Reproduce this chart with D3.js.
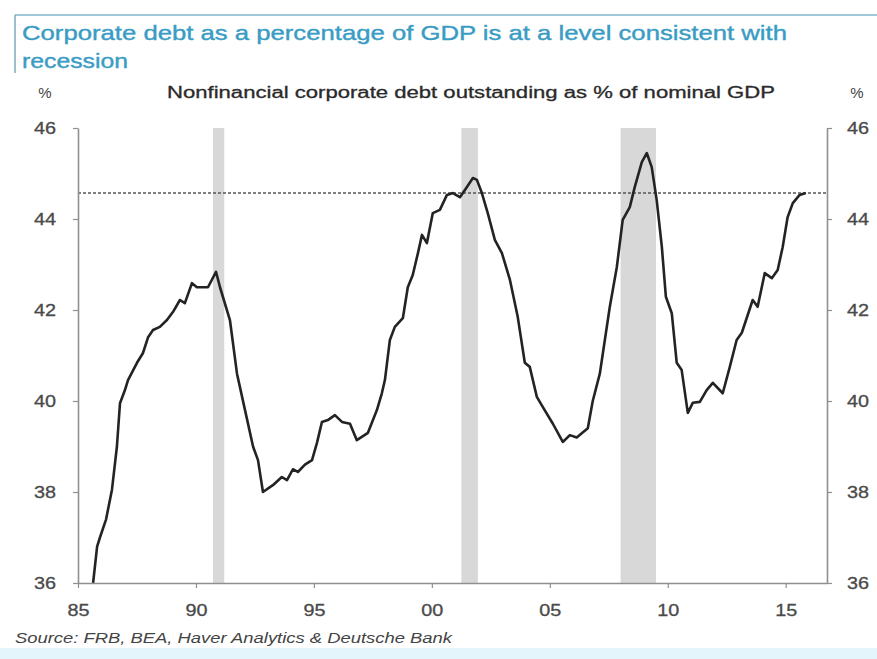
<!DOCTYPE html>
<html lang="en">
<head>
    <meta charset="UTF-8">
    <title>Corporate debt as % of GDP</title>
    <script src="https://d3js.org/d3.v7.min.js"></script>
    <style>
        body { margin: 0; background: #fff; }
        svg { display: block; font-family: "Liberation Sans", Arial, sans-serif; }
    </style>
</head>
<body>
<div id="chart"></div>
<script>
    // quarterly-ish readings (decimal year, % of GDP)
    const years = [
        1985.64, 1985.81, 1985.93, 1986.19, 1986.44, 1986.65, 1986.78, 1986.99, 1987.12, 1987.50,
        1987.75, 1987.97, 1988.18, 1988.47, 1988.77, 1989.03, 1989.32, 1989.53, 1989.83, 1990.04,
        1990.51, 1990.85, 1991.02, 1991.44, 1991.74, 1992.08, 1992.42, 1992.63, 1992.84, 1993.26,
        1993.64, 1993.86, 1994.11, 1994.32, 1994.62, 1994.92, 1995.13, 1995.34, 1995.59, 1995.89,
        1996.19, 1996.53, 1996.82, 1997.29, 1997.67, 1997.88, 1998.01, 1998.22, 1998.43, 1998.77,
        1998.98, 1999.19, 1999.41, 1999.58, 1999.79, 2000.04, 2000.34, 2000.64, 2000.89, 2001.19,
        2001.48, 2001.74, 2001.91, 2002.12, 2002.37, 2002.67, 2002.97, 2003.31, 2003.64, 2003.94,
        2004.15, 2004.45, 2004.70, 2005.13, 2005.55, 2005.85, 2006.14, 2006.61, 2006.82, 2007.12,
        2007.54, 2007.84, 2008.09, 2008.39, 2008.60, 2008.90, 2009.11, 2009.32, 2009.53, 2009.75,
        2009.92, 2010.17, 2010.38, 2010.59, 2010.85, 2011.06, 2011.36, 2011.65, 2011.91, 2012.33,
        2012.63, 2012.92, 2013.14, 2013.60, 2013.81, 2014.11, 2014.41, 2014.66, 2014.87, 2015.08,
        2015.30, 2015.59, 2015.85
    ];
    const debtPct = [
        36.00, 36.80, 37.00, 37.40, 38.05, 39.00, 39.95, 40.24, 40.46, 40.84,
        41.05, 41.40, 41.56, 41.63, 41.78, 41.96, 42.22, 42.15, 42.59, 42.50,
        42.50, 42.84, 42.50, 41.78, 40.60, 39.80, 39.00, 38.70, 38.00, 38.15,
        38.33, 38.26, 38.50, 38.44, 38.60, 38.70, 39.08, 39.54, 39.58, 39.69,
        39.54, 39.50, 39.14, 39.30, 39.80, 40.17, 40.46, 41.34, 41.63, 41.82,
        42.50, 42.77, 43.25, 43.65, 43.47, 44.13, 44.20, 44.53, 44.57, 44.48,
        44.70, 44.90, 44.86, 44.57, 44.13, 43.54, 43.25, 42.66, 41.85, 40.84,
        40.75, 40.09, 39.87, 39.50, 39.10, 39.25, 39.20, 39.40, 40.00, 40.60,
        42.06, 42.94, 43.98, 44.26, 44.70, 45.25, 45.45, 45.14, 44.42, 43.38,
        42.29, 41.93, 40.84, 40.68, 39.74, 39.96, 39.98, 40.24, 40.40, 40.17,
        40.75, 41.34, 41.50, 42.22, 42.07, 42.81, 42.70, 42.88, 43.38, 44.04,
        44.35, 44.53, 44.57
    ];

    // NBER recessions
    const recStart = [1990.72, 2001.25, 2008.0];
    const recEnd = [1991.2, 2001.95, 2009.5];

    const recessionLevel = 44.57;

    const xTicks = [1985, 1990, 1995, 2000, 2005, 2010, 2015];
    const xTickLabels = ["85", "90", "95", "00", "05", "10", "15"];
    const yTicks = [36, 38, 40, 42, 44, 46];

    const width = 877, height = 659;
    const plotLeft = 78, plotRight = 827, plotTop = 128, plotBottom = 583;

    const svg = d3.select("#chart")
        .append("svg")
        .attr("width", width)
        .attr("height", height);

    const x = d3.scaleLinear().domain([1985, 2016.75]).range([plotLeft, plotRight]);
    const y = d3.scaleLinear().domain([36, 46]).range([plotBottom, plotTop]);

    // frame bits round the title
    svg.append("line")
        .attr("x1", 15).attr("x2", width)
        .attr("y1", 15).attr("y2", 15)
        .attr("stroke", "#9fc7d6").attr("stroke-width", 2);
    svg.append("line")
        .attr("x1", 15).attr("x2", 15)
        .attr("y1", 15).attr("y2", 73)
        .attr("stroke", "#7fa9bb").attr("stroke-width", 1.5);
    svg.append("rect")
        .attr("x", 0).attr("y", 648)
        .attr("width", width).attr("height", 11)
        .attr("fill", "#e4f5fb");

    svg.append("text")
        .attr("x", 22).attr("y", 40)
        .attr("font-size", 21)
        .attr("fill", "#3a9cc4")
        .attr("stroke", "#3a9cc4").attr("stroke-width", 0.4)
        .attr("textLength", 765)
        .attr("lengthAdjust", "spacingAndGlyphs")
        .text("Corporate debt as a percentage of GDP is at a level consistent with");
    svg.append("text")
        .attr("x", 22).attr("y", 68)
        .attr("font-size", 21)
        .attr("fill", "#3a9cc4")
        .attr("stroke", "#3a9cc4").attr("stroke-width", 0.4)
        .attr("textLength", 106)
        .attr("lengthAdjust", "spacingAndGlyphs")
        .text("recession");

    svg.append("text")
        .attr("x", 167).attr("y", 98)
        .attr("font-size", 16)
        .attr("fill", "#2a2a2a")
        .attr("stroke", "#2a2a2a").attr("stroke-width", 0.3)
        .attr("textLength", 608)
        .attr("lengthAdjust", "spacingAndGlyphs")
        .text("Nonfinancial corporate debt outstanding as % of nominal GDP");
    svg.append("text")
        .attr("x", 45).attr("y", 98)
        .attr("text-anchor", "middle")
        .attr("font-size", 15)
        .attr("fill", "#444")
        .text("%");
    svg.append("text")
        .attr("x", 857).attr("y", 98)
        .attr("text-anchor", "middle")
        .attr("font-size", 15)
        .attr("fill", "#444")
        .text("%");

    // recession shading
    svg.selectAll(".rec")
        .data(recStart)
        .enter()
        .append("rect")
        .attr("class", "rec")
        .attr("x", d => x(d))
        .attr("width", (d, i) => x(recEnd[i]) - x(d))
        .attr("y", y(46))
        .attr("height", y(36) - y(46))
        .attr("fill", "#d8d8d8");

    // threshold line
    svg.append("line")
        .attr("x1", plotLeft).attr("x2", plotRight)
        .attr("y1", y(recessionLevel)).attr("y2", y(recessionLevel))
        .attr("stroke", "#555")
        .attr("stroke-width", 1.6)
        .attr("stroke-dasharray", "3,2");

    svg.append("clipPath").attr("id", "plot")
        .append("rect")
        .attr("x", plotLeft).attr("y", plotTop - 10)
        .attr("width", plotRight - plotLeft).attr("height", plotBottom - plotTop + 10);

    const line = d3.line()
        .x((d, i) => x(years[i]))
        .y(d => y(d));

    svg.append("path")
        .datum(debtPct)
        .attr("clip-path", "url(#plot)")
        .attr("fill", "none")
        .attr("stroke", "#232323")
        .attr("stroke-width", 2.6)
        .attr("stroke-linejoin", "round")
        .attr("d", line);

    function styleAxis(g) {
        g.select(".domain").attr("stroke", "#8f8f8f").attr("stroke-width", 1.6);
        g.selectAll(".tick line").attr("stroke", "#8f8f8f").attr("stroke-width", 1.2);
        g.selectAll(".tick text")
            .attr("fill", "#4a4a4a")
            .attr("stroke", "#4a4a4a").attr("stroke-width", 0.3)
            .attr("font-size", 16)
            .attr("font-family", "Liberation Sans, Arial, sans-serif")
            .attr("textLength", 22)
            .attr("lengthAdjust", "spacingAndGlyphs");
    }

    svg.append("g")
        .attr("transform", `translate(${plotLeft},0)`)
        .call(d3.axisLeft(y).tickValues(yTicks).tickSize(5).tickSizeOuter(0).tickPadding(17))
        .call(styleAxis);

    svg.append("g")
        .attr("transform", `translate(${plotRight},0)`)
        .call(d3.axisRight(y).tickValues(yTicks).tickSize(5).tickSizeOuter(0).tickPadding(15))
        .call(styleAxis);

    svg.append("g")
        .attr("transform", `translate(0,${plotBottom})`)
        .call(d3.axisBottom(x).tickValues(xTicks).tickFormat((d, i) => xTickLabels[i])
            .tickSize(5).tickSizeOuter(0).tickPadding(17))
        .call(styleAxis);

    svg.append("text")
        .attr("x", 15).attr("y", 643)
        .attr("font-size", 14)
        .attr("font-style", "italic")
        .attr("fill", "#444")
        .attr("textLength", 437)
        .attr("lengthAdjust", "spacingAndGlyphs")
        .text("Source: FRB, BEA, Haver Analytics & Deutsche Bank");
</script>
</body>
</html>
